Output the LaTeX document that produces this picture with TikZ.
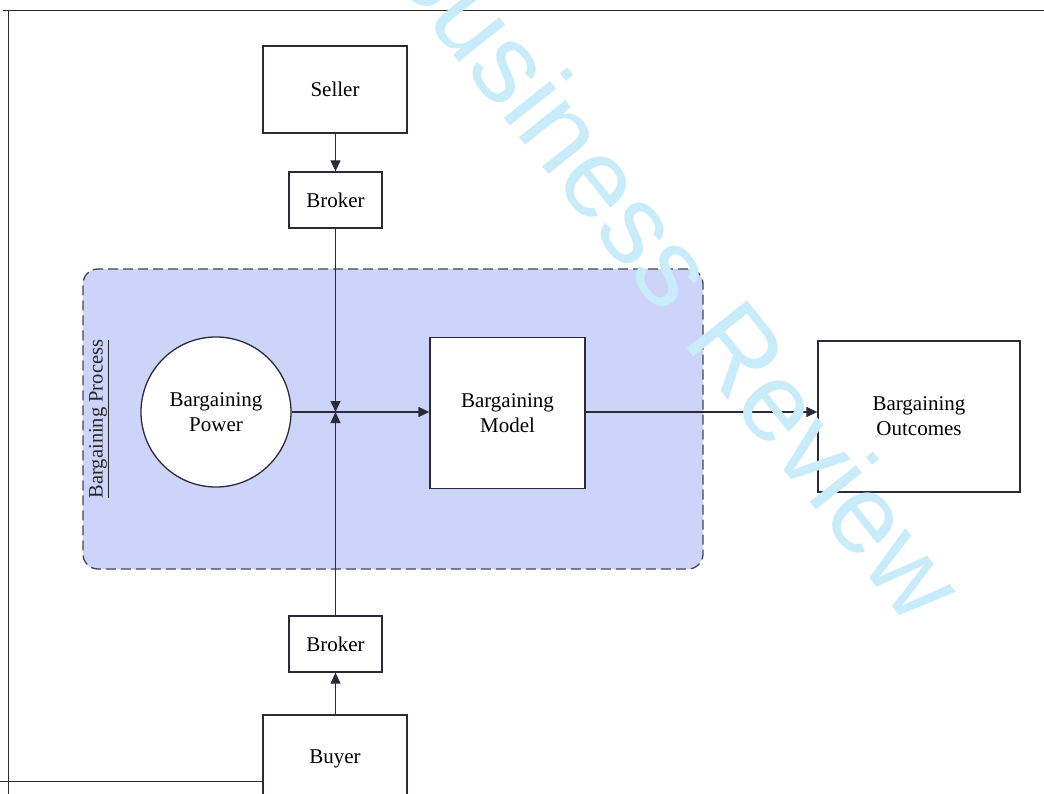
\documentclass[tikz,border=0pt]{standalone}
\usepackage{fontspec}
\setmainfont{Liberation Serif}
\newfontfamily\wmfont{Liberation Sans}
\usetikzlibrary{arrows.meta,shapes.geometric}
\definecolor{linec}{HTML}{2A2A38}
\definecolor{procfill}{HTML}{CCD5F9}
\definecolor{wmcol}{HTML}{C9ECFB}
\definecolor{dashc}{HTML}{45454F}
\tikzset{
  box/.style={draw=linec, line width=1.3pt, fill=white, inner sep=0pt, align=center,
    font=\fontsize{21}{25}\selectfont, text=black},
  conn/.style={draw=linec, line width=1.3pt},
  tip/.style={-{Triangle[length=11pt,width=10pt]}},
}
\begin{document}
\begin{tikzpicture}[x=1pt,y=-1pt]
\useasboundingbox (0,0) rectangle (1044,794);
\clip (0,0) rectangle (1044,794);
\fill[white] (0,0) rectangle (1044,794);
% frame
\coordinate (ftl) at (3,10.5);
\coordinate (ftr) at (1044,10.5);
\coordinate (flt) at (8.5,10.5);
\coordinate (flb) at (8.5,794);
\coordinate (fbl) at (0,781.5);
\draw[conn] (ftl) -- (ftr);
\draw[conn] (flt) -- (flb);
% process area
\node[draw=dashc, line width=1.3pt, dash pattern=on 10pt off 5pt, fill=procfill,
  rounded corners=15pt, minimum width=620pt, minimum height=300pt, inner sep=0pt]
  (proc) at (393,419) {};
\node[rotate=90, font=\fontsize{20.5}{24}\selectfont, text=black!85, inner sep=0pt]
  (plabel) at (99,419) {\underline{Bargaining Process}};
% nodes
\node[box, minimum width=144pt, minimum height=87pt] (seller) at (335,89.5) {Seller};
\node[box, minimum width=93pt, minimum height=56pt] (brokerT) at (335.5,200) {Broker};
\node[box, circle, minimum size=150pt] (power) at (216,412) {Bargaining\\Power};
\node[box, minimum width=155pt, minimum height=151pt] (model) at (507.5,413) {Bargaining\\Model};
\node[box, minimum width=202pt, minimum height=151pt] (outc) at (919,416.5) {Bargaining\\Outcomes};
\node[box, minimum width=93pt, minimum height=56pt] (brokerB) at (335.5,644) {Broker};
\node[box, minimum width=144pt, minimum height=87pt] (buyer) at (335,758.5) {Buyer};
\coordinate (junc) at (335.5,412);
% bottom frame line to buyer
\draw[conn] (fbl) -- (buyer.west |- fbl);
% connectors
\draw[conn, tip] (seller.south -| brokerT.north) -- (brokerT.north);
\draw[conn, tip] (brokerT.south) -- (junc);
\draw[conn, tip] (brokerB.north) -- (junc);
\draw[conn, tip] (buyer.north -| brokerB.south) -- (brokerB.south);
\draw[conn, tip] (power.east) -- (model.west |- power.east);
\draw[conn, tip] (model.east |- power.east) -- (outc.west |- power.east);
% watermark
\node[rotate=-51.5, font=\wmfont\fontsize{112}{112}\selectfont, text=wmcol, inner sep=0pt]
  (wm) at (676,270) {Business Review};
\end{tikzpicture}
\end{document}
